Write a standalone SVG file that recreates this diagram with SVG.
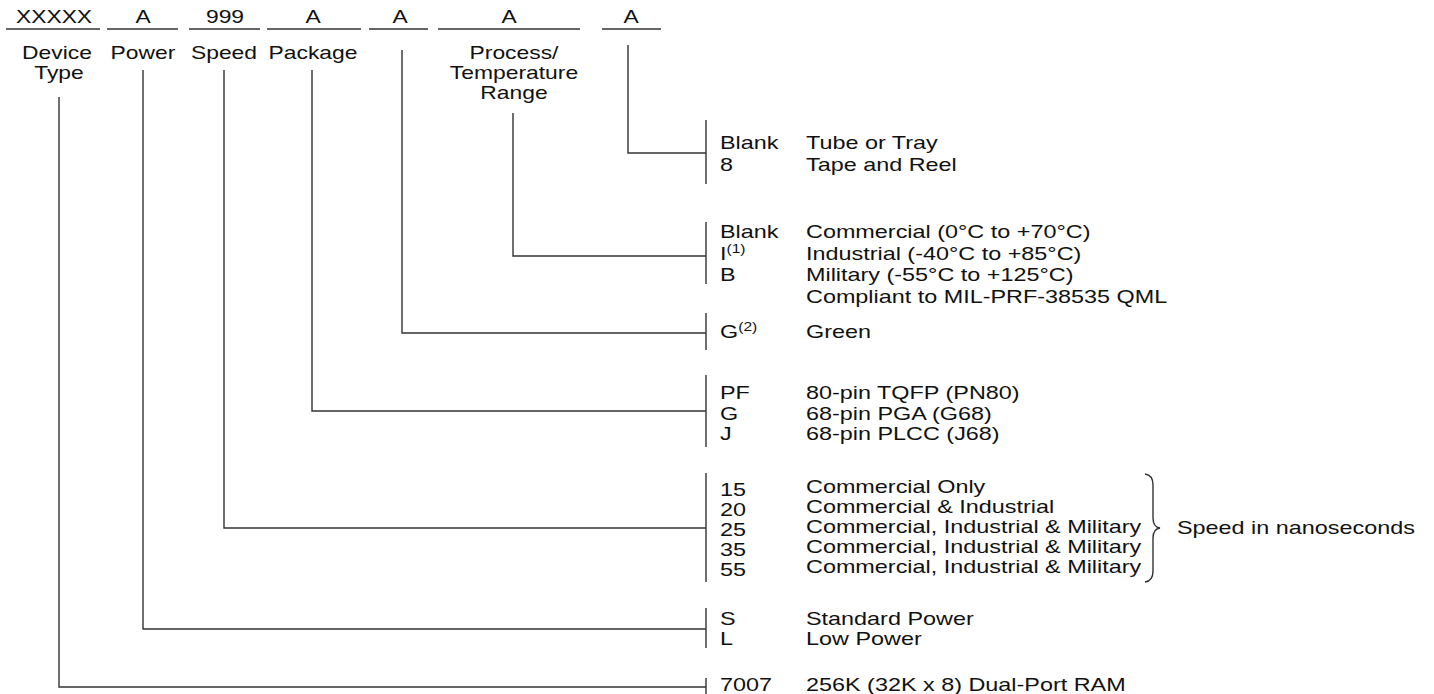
<svg xmlns="http://www.w3.org/2000/svg" width="1434" height="694" viewBox="0 0 1434 694">
<style>
text{font-family:"Liberation Sans",Arial,sans-serif;font-size:18px;fill:#111}
.m{text-anchor:middle}
.sup{font-size:12px}
.ln{stroke:#333;stroke-width:1.4;fill:none}
</style>
<rect width="1434" height="694" fill="#fff"/>
<g id="header">
<g class="ln">
<line x1="6" y1="29" x2="100" y2="29"/>
<line x1="107" y1="29" x2="178" y2="29"/>
<line x1="189" y1="29" x2="260" y2="29"/>
<line x1="267" y1="29" x2="361" y2="29"/>
<line x1="369" y1="29" x2="428" y2="29"/>
<line x1="438" y1="29" x2="580" y2="29"/>
<line x1="602" y1="29" x2="661" y2="29"/>
</g>
<text class="m" transform="matrix(1.27 0 0 1 54 23)">XXXXX</text>
<text class="m" transform="matrix(1.27 0 0 1 143 23)">A</text>
<text class="m" transform="matrix(1.27 0 0 1 225 23)">999</text>
<text class="m" transform="matrix(1.27 0 0 1 313 23)">A</text>
<text class="m" transform="matrix(1.27 0 0 1 400 23)">A</text>
<text class="m" transform="matrix(1.27 0 0 1 509 23)">A</text>
<text class="m" transform="matrix(1.27 0 0 1 631 23)">A</text>
<text class="m" transform="matrix(1.27 0 0 1 57 59)">Device</text>
<text class="m" transform="matrix(1.27 0 0 1 59 79)">Type</text>
<text class="m" transform="matrix(1.27 0 0 1 143 59)">Power</text>
<text class="m" transform="matrix(1.27 0 0 1 224 59)">Speed</text>
<text class="m" transform="matrix(1.27 0 0 1 313 59)">Package</text>
<text class="m" transform="matrix(1.27 0 0 1 514 59)">Process/</text>
<text class="m" transform="matrix(1.27 0 0 1 514 79)">Temperature</text>
<text class="m" transform="matrix(1.27 0 0 1 514 99)">Range</text>
</g>
<g id="connectors" class="ln">
<polyline points="628,45 628,153 706,153"/>
<polyline points="513,113 513,256 706,256"/>
<polyline points="402,50 402,333 706,333"/>
<polyline points="312,70 312,411 706,411"/>
<polyline points="224,70 224,528 706,528"/>
<polyline points="143,70 143,629 706,629"/>
<polyline points="59,97 59,687 706,687"/>
<line x1="706" y1="120" x2="706" y2="184"/>
<line x1="706" y1="222" x2="706" y2="284"/>
<line x1="706" y1="313" x2="706" y2="350"/>
<line x1="706" y1="375" x2="706" y2="447"/>
<line x1="706" y1="473" x2="706" y2="582"/>
<line x1="706" y1="608" x2="706" y2="648"/>
<line x1="706" y1="678" x2="706" y2="694"/>
<path d="M1145,474 Q1153,475 1153,485 L1153,518 Q1153,527 1160,528 Q1153,529 1153,538 L1153,571 Q1153,581 1145,582"/>
</g>
<g id="packing">
<text transform="matrix(1.3 0 0 1 720 149)">Blank</text>
<text transform="matrix(1.3 0 0 1 806 149)">Tube or Tray</text>
<text transform="matrix(1.3 0 0 1 720 170.5)">8</text>
<text transform="matrix(1.3 0 0 1 806 170.5)">Tape and Reel</text>
</g>
<g id="process">
<text transform="matrix(1.3 0 0 1 720 238)">Blank</text>
<text transform="matrix(1.3 0 0 1 806 238)">Commercial (0°C to +70°C)</text>
<text transform="matrix(1.3 0 0 1 720 259.5)">I<tspan class="sup" dy="-7">(1)</tspan></text>
<text transform="matrix(1.3 0 0 1 806 259.5)">Industrial (-40°C to +85°C)</text>
<text transform="matrix(1.3 0 0 1 720 281)">B</text>
<text transform="matrix(1.3 0 0 1 806 281)">Military (-55°C to +125°C)</text>
<text transform="matrix(1.3 0 0 1 806 302.5)">Compliant to MIL-PRF-38535 QML</text>
</g>
<g id="green">
<text transform="matrix(1.3 0 0 1 720 338)">G<tspan class="sup" dy="-7">(2)</tspan></text>
<text transform="matrix(1.3 0 0 1 806 338)">Green</text>
</g>
<g id="package">
<text transform="matrix(1.3 0 0 1 720 399)">PF</text>
<text transform="matrix(1.3 0 0 1 806 399)">80-pin TQFP (PN80)</text>
<text transform="matrix(1.3 0 0 1 720 419.5)">G</text>
<text transform="matrix(1.3 0 0 1 806 419.5)">68-pin PGA (G68)</text>
<text transform="matrix(1.3 0 0 1 720 440)">J</text>
<text transform="matrix(1.3 0 0 1 806 440)">68-pin PLCC (J68)</text>
</g>
<g id="speed">
<text transform="matrix(1.3 0 0 1 720 496)">15</text>
<text transform="matrix(1.3 0 0 1 806 493)">Commercial Only</text>
<text transform="matrix(1.3 0 0 1 720 516)">20</text>
<text transform="matrix(1.3 0 0 1 806 513)">Commercial &amp; Industrial</text>
<text transform="matrix(1.3 0 0 1 720 536)">25</text>
<text transform="matrix(1.3 0 0 1 806 533)">Commercial, Industrial &amp; Military</text>
<text transform="matrix(1.3 0 0 1 720 556)">35</text>
<text transform="matrix(1.3 0 0 1 806 553)">Commercial, Industrial &amp; Military</text>
<text transform="matrix(1.3 0 0 1 720 576)">55</text>
<text transform="matrix(1.3 0 0 1 806 573)">Commercial, Industrial &amp; Military</text>
<text transform="matrix(1.3 0 0 1 1177 534)">Speed in nanoseconds</text>
</g>
<g id="power">
<text transform="matrix(1.3 0 0 1 720 625)">S</text>
<text transform="matrix(1.3 0 0 1 806 625)">Standard Power</text>
<text transform="matrix(1.3 0 0 1 720 645)">L</text>
<text transform="matrix(1.3 0 0 1 806 645)">Low Power</text>
</g>
<g id="device">
<text transform="matrix(1.3 0 0 1 720 691)">7007</text>
<text transform="matrix(1.3 0 0 1 806 691)">256K (32K x 8) Dual-Port RAM</text>
</g>
</svg>
